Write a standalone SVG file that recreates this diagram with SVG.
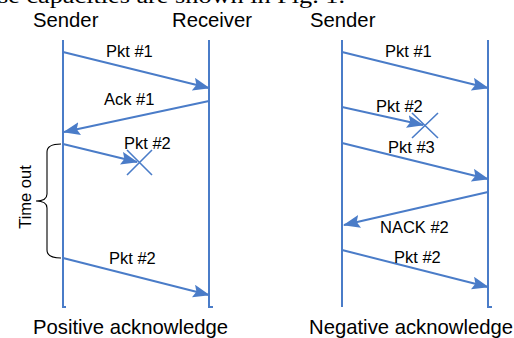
<svg xmlns="http://www.w3.org/2000/svg" width="514" height="338" viewBox="0 0 514 338">
<style>
.t{font-family:"Liberation Sans",Arial,sans-serif;fill:#000}
.lbl{font-size:16.5px}
.hd{font-size:20.3px}
.ft{font-size:20.3px}
.ln{stroke:#4a7cc8;stroke-width:2;fill:none}
.msg{stroke:#4a7cc8;stroke-width:2;fill:none;marker-end:url(#ah)}
.x{stroke:#4a7cc8;stroke-width:1.6;fill:none}
</style>
<defs>
<marker id="ah" markerUnits="userSpaceOnUse" markerWidth="17" markerHeight="13" refX="16" refY="6.5" orient="auto" viewBox="0 0 17 13">
<path d="M0,0 L17,6.5 L0,13 L3,6.5 Z" fill="#4a7cc8"/>
</marker>
</defs>
<rect width="514" height="338" fill="#fff"/>
<text x="-2" y="2.5" font-family="'Liberation Serif','Times New Roman',serif" font-size="21" textLength="347" lengthAdjust="spacingAndGlyphs">se capacities are shown in Fig. 1.</text>
<g id="lifelines">
<g id="sender-left"><text class="t hd" x="33" y="27">Sender</text><path class="ln" d="M63,40 V307 h3"/></g>
<g id="receiver-left"><text class="t hd" x="172" y="27">Receiver</text><path class="ln" d="M209,40 V307 h4"/></g>
<g id="sender-right"><text class="t hd" x="310" y="27">Sender</text><path class="ln" d="M342,40 V307"/></g>
<g id="receiver-right"><path class="ln" d="M488,40 V307 h4"/></g>
</g>
<g id="connectors">
<path class="msg" d="M63,52 L209,88"/>
<path class="msg" d="M209,101 L64,132"/>
<path class="msg" d="M63,144 L137,162"/>
<path class="x" d="M127,150 L152,175 M127,175 L152,150"/>
<path class="msg" d="M63,258 L209,295"/>
<path class="msg" d="M342,52 L488,88"/>
<path class="msg" d="M342,107 L423,125"/>
<path class="x" d="M412,113 L438,138 M412,138 L438,113"/>
<path class="msg" d="M342,143 L488,179"/>
<path class="msg" d="M488,192 L344,225"/>
<path class="msg" d="M342,250 L488,287"/>
</g>
<g id="labels">
<text class="t lbl" x="106" y="57">Pkt #1</text>
<text class="t lbl" x="104" y="105">Ack #1</text>
<text class="t lbl" x="124" y="149">Pkt #2</text>
<text class="t lbl" x="109" y="264">Pkt #2</text>
<text class="t lbl" x="385" y="57">Pkt #1</text>
<text class="t lbl" x="376" y="112">Pkt #2</text>
<text class="t lbl" x="388" y="153">Pkt #3</text>
<text class="t lbl" x="380" y="233">NACK #2</text>
<text class="t lbl" x="394" y="263">Pkt #2</text>
</g>
<g id="timeout">
<path d="M61,144 C52,144 47,146 47,152 V194 C47,199 43,201 36,201 C43,201 47,203 47,208 V250 C47,256 52,258 61,258" fill="none" stroke="#000" stroke-width="1.1"/>
<text class="t lbl" transform="translate(31,197) rotate(-90)" text-anchor="middle">Time out</text>
</g>
<text class="t ft" x="33" y="334">Positive acknowledge</text>
<text class="t ft" x="309" y="334">Negative acknowledge</text>
</svg>
